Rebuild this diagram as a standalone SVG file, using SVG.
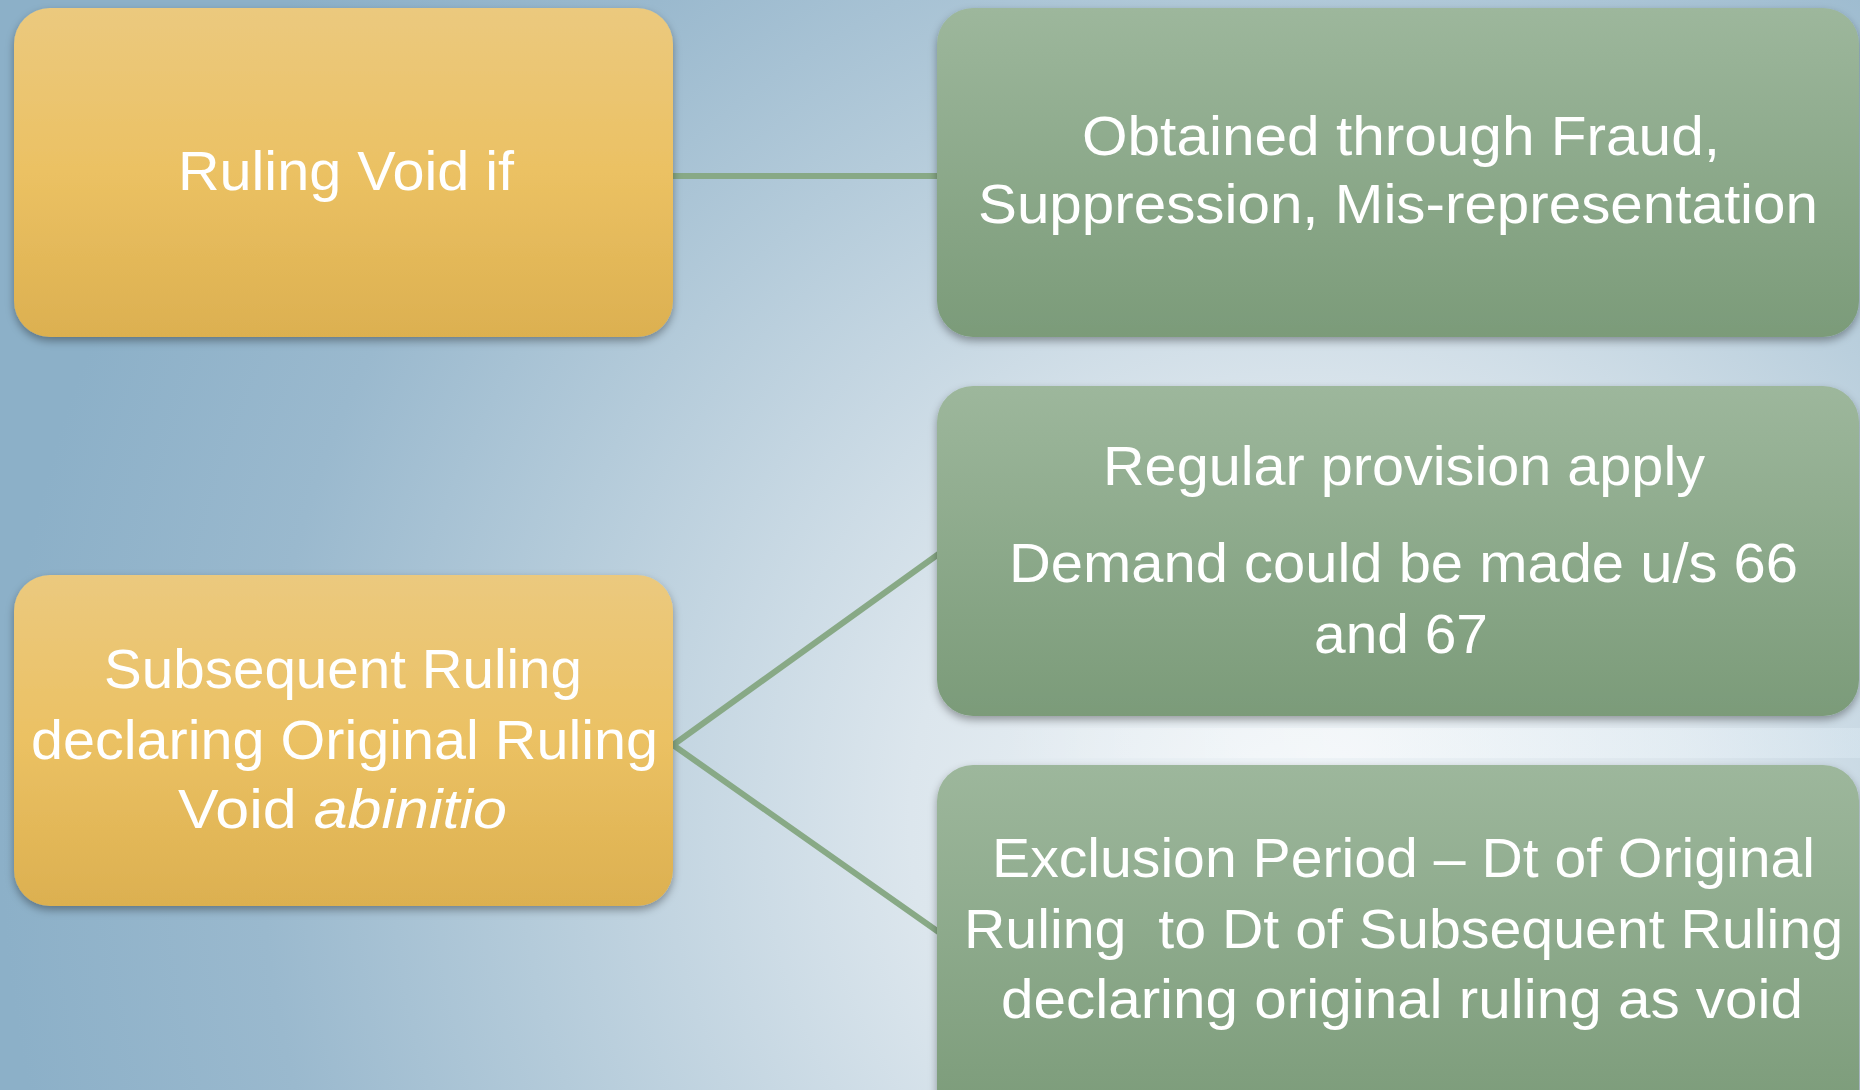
<svg xmlns="http://www.w3.org/2000/svg" width="1860" height="1090" viewBox="0 0 1860 1090">
<defs>
<radialGradient id="bg" cx="1300" cy="820" r="1300" gradientUnits="userSpaceOnUse">
<stop offset="0" stop-color="#f0f5f8"/>
<stop offset="0.3" stop-color="#dce6ed"/>
<stop offset="0.6" stop-color="#b4cbda"/>
<stop offset="0.8" stop-color="#9ab9ce"/>
<stop offset="1" stop-color="#8cb0c8"/>
</radialGradient>
<linearGradient id="yel" x1="0" y1="0" x2="0" y2="1">
<stop offset="0" stop-color="#ebc97e"/>
<stop offset="0.5" stop-color="#ebc163"/>
<stop offset="1" stop-color="#dcb050"/>
</linearGradient>
<linearGradient id="grn" x1="0" y1="0" x2="0" y2="1">
<stop offset="0" stop-color="#9db79c"/>
<stop offset="1" stop-color="#7b9b79"/>
</linearGradient>
<linearGradient id="streak" x1="0" y1="0" x2="1" y2="0">
<stop offset="0" stop-color="#ffffff" stop-opacity="0"/>
<stop offset="0.4" stop-color="#ffffff" stop-opacity="0.7"/>
<stop offset="1" stop-color="#e6f3fb" stop-opacity="0.5"/>
</linearGradient>
<filter id="sh" x="-5%" y="-5%" width="110%" height="115%">
<feDropShadow dx="0" dy="4" stdDeviation="4" flood-color="#000" flood-opacity="0.35"/>
</filter>
</defs>
<style>
.y{fill:url(#yel);filter:url(#sh)}
.g{fill:url(#grn);filter:url(#sh)}
.t{font-family:"Liberation Sans","Open Sans",sans-serif;font-size:56px;fill:#ffffff}
.c{stroke:#88a986;stroke-width:6;fill:none}
</style>
<rect width="1860" height="1090" fill="url(#bg)"/>
<rect x="1000" y="728" width="860" height="30" fill="url(#streak)" opacity="0.6"/>
<g id="connectors">
<line class="c" x1="670" y1="176" x2="940" y2="176"/>
<polyline class="c" points="940,553 673,745 940,933"/>
</g>
<g id="n1">
<rect class="y" x="14" y="8" width="659" height="329" rx="36"/>
<text class="t" x="178" y="190" textLength="336" lengthAdjust="spacingAndGlyphs">Ruling Void if</text>
</g>
<g id="n2">
<rect class="g" x="937" y="8" width="922" height="329" rx="36"/>
<text class="t" x="1082" y="155" textLength="638" lengthAdjust="spacingAndGlyphs">Obtained through Fraud,</text>
<text class="t" x="978" y="223" textLength="840" lengthAdjust="spacingAndGlyphs">Suppression, Mis-representation</text>
</g>
<g id="n3">
<rect class="g" x="937" y="386" width="922" height="330" rx="36"/>
<text class="t" x="1103" y="485" textLength="602" lengthAdjust="spacingAndGlyphs">Regular provision apply</text>
<text class="t" x="1009" y="582" textLength="789" lengthAdjust="spacingAndGlyphs">Demand could be made u/s 66</text>
<text class="t" x="1314" y="653" textLength="174" lengthAdjust="spacingAndGlyphs">and 67</text>
</g>
<g id="n4">
<rect class="g" x="937" y="765" width="922" height="360" rx="36"/>
<text class="t" x="992" y="877" textLength="823" lengthAdjust="spacingAndGlyphs">Exclusion Period – Dt of Original</text>
<text class="t" x="964" y="948" textLength="879" lengthAdjust="spacingAndGlyphs" xml:space="preserve">Ruling  to Dt of Subsequent Ruling</text>
<text class="t" x="1001" y="1018" textLength="802" lengthAdjust="spacingAndGlyphs">declaring original ruling as void</text>
</g>
<g id="n5">
<rect class="y" x="14" y="575" width="659" height="331" rx="36"/>
<text class="t" x="104" y="688" textLength="478" lengthAdjust="spacingAndGlyphs">Subsequent Ruling</text>
<text class="t" x="31" y="759" textLength="627" lengthAdjust="spacingAndGlyphs">declaring Original Ruling</text>
<text class="t" x="178" y="828" textLength="329" lengthAdjust="spacingAndGlyphs">Void <tspan font-style="italic">abinitio</tspan></text>
</g>
</svg>
